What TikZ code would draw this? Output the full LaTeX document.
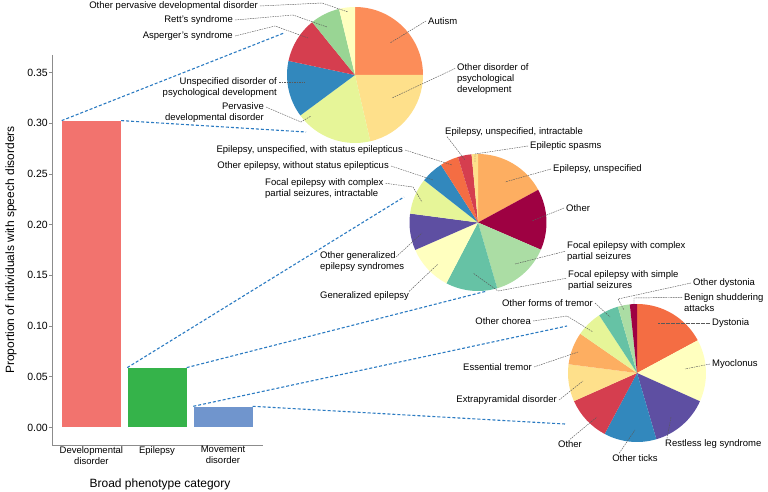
\documentclass[tikz,border=0pt]{standalone}
\usepackage{fontspec}
\setmainfont{Liberation Sans}
\usepackage{xcolor}
\usetikzlibrary{positioning,calc}

\definecolor{spA}{HTML}{9E0142}
\definecolor{spB}{HTML}{D53E4F}
\definecolor{spC}{HTML}{F46D43}
\definecolor{spD}{HTML}{FDAE61}
\definecolor{spE}{HTML}{FEE08B}
\definecolor{spF}{HTML}{FFFFBF}
\definecolor{spG}{HTML}{E6F598}
\definecolor{spH}{HTML}{ABDDA4}
\definecolor{spI}{HTML}{66C2A5}
\definecolor{spJ}{HTML}{3288BD}
\definecolor{spK}{HTML}{5E4FA2}
\definecolor{sevOrange}{HTML}{FC8D59}
\definecolor{sevGreen}{HTML}{99D594}
\definecolor{devRed}{HTML}{F2736E}
\definecolor{epiGreen}{HTML}{35B34A}
\definecolor{movBlue}{HTML}{7095CD}
\definecolor{linkBlue}{HTML}{2B7BC2}

\begin{document}
\begin{tikzpicture}[x=1pt, y=1pt,
    lbl/.style={font=\fontsize{9.5}{11}\selectfont, inner sep=0pt, align=left},
    lblr/.style={lbl, align=right},
    leader/.style={draw=black!65, line width=0.45pt, dash pattern=on 1.6pt off 0.9pt},
    zoomline/.style={draw=linkBlue, line width=1.1pt, dash pattern=on 3pt off 2pt},
    bar/.style={anchor=south west, inner sep=0pt, minimum width=59pt},
    ticklbl/.style={font=\fontsize{10.5}{12}\selectfont, anchor=east, inner sep=0pt},
    cat/.style={font=\fontsize{9.5}{11}\selectfont, inner sep=0pt, align=center}
]
    \useasboundingbox (0,0) rectangle (768,-492);

    % bar chart
    \draw[black!45, line width=0.8pt] (52,-55) -- (52,-445) -- (263,-445);
    \foreach \v/\t in {0/0.00,1/0.05,2/0.10,3/0.15,4/0.20,5/0.25,6/0.30,7/0.35} {
        \draw[black!45, line width=0.8pt] (49,-427.5+\v*50.71) -- (52,-427.5+\v*50.71);
        \node[ticklbl] (tick\v) at (48,-427.5+\v*50.71) {\t};
    }
    \node[bar, fill=devRed, minimum height=306.5pt] (barDev) at (61.7,-427.5) {};
    \node[bar, fill=epiGreen, minimum height=59.5pt] (barEpi) at (127.3,-427.5) {};
    \node[bar, fill=movBlue, minimum height=20.8pt] (barMov) at (193.3,-427.5) {};
    \node[cat, below=18.5pt of barDev] (catDev) {Developmental\\disorder};
    \node[cat, below=18.5pt of barEpi] (catEpi) {Epilepsy};
    \node[cat, below=18.5pt of barMov] (catMov) {Movement\\disorder};
    \node[font=\fontsize{12}{14}\selectfont, inner sep=0pt] (xTitle) at (160,-484) {Broad phenotype category};
    \node[font=\fontsize{12}{14}\selectfont, inner sep=0pt, rotate=90] (yTitle) at (11,-250) {Proportion of individuals with speech disorders};

    % pies
    \coordinate (pieDev) at (355,-75);
    \coordinate (pieEpi) at (478,-222.5);
    \coordinate (pieMov) at (637,-373);
    \foreach \a/\b/\c in {90/0/sevOrange, 0/-77/spE, -77/-143.5/spG, -143.5/-192/spJ,
        -192/-231/spB, -231/-256.4/sevGreen, -256.4/-270/spF}
        \fill[\c] (pieDev) -- ++(\a:68pt) arc[start angle=\a, end angle=\b, radius=68pt] -- cycle;
    \foreach \a/\b/\c in {90/28.5/spD, 28.5/-23.4/spA, -23.4/-73.7/spH, -73.7/-117.5/spI,
        -117.5/-156.4/spF, -156.4/-187.5/spK, -187.5/-218.1/spG, -218.1/-237.3/spJ,
        -237.3/-253/spC, -253/-264.6/spB, -264.6/-270/spE}
        \fill[\c] (pieEpi) -- ++(\a:68.5pt) arc[start angle=\a, end angle=\b, radius=68.5pt] -- cycle;
    \foreach \a/\b/\c in {90/28.3/spC, 28.3/-24.2/spF, -24.2/-73.7/spK, -73.7/-118/spJ,
        -118/-156/spB, -156/-187.3/spE, -187.3/-214.7/spD, -214.7/-236.8/spG,
        -236.8/-253.9/spI, -253.9/-264/spH, -264/-270/spA}
        \fill[\c] (pieMov) -- ++(\a:69pt) arc[start angle=\a, end angle=\b, radius=69pt] -- cycle;

    % links from bars to pies
    \coordinate (devTop) at (284,-33);
    \coordinate (devBot) at (306,-132);
    \coordinate (epiTop) at (404,-197);
    \coordinate (epiBot) at (487,-291);
    \coordinate (movTop) at (567,-326);
    \coordinate (movBot) at (565,-424);
    \draw[zoomline] (barDev.north west) -- (devTop);
    \draw[zoomline] (barDev.north east) -- (devBot);
    \draw[zoomline] (barEpi.north west) -- (epiTop);
    \draw[zoomline] (barEpi.north east) -- (epiBot);
    \draw[zoomline] (barMov.north west) -- (movTop);
    \draw[zoomline] (barMov.north east) -- (movBot);

    % developmental disorder labels
    \node[lbl, anchor=east] (lOPDD) at (258,-6) {Other pervasive developmental disorder};
    \node[lbl, anchor=east] (lRett) at (233,-20) {Rett's syndrome};
    \node[lbl, anchor=east] (lAsp) at (233,-36) {Asperger's syndrome};
    \node[lblr, anchor=east] (lUnspec) at (277,-87.5) {Unspecified disorder of\\psychological development};
    \node[lblr, anchor=east] (lPerv) at (264,-112.5) {Pervasive\\developmental disorder};
    \node[lbl, anchor=west] (lAutism) at (428,-21) {Autism};
    \node[lbl, anchor=west] (lOthDev) at (457,-79.5) {Other disorder of\\psychological\\development};
    \coordinate (inOPDD) at (348,-12);
    \coordinate (inRett) at (327,-27);
    \coordinate (inAsp) at (308,-38);
    \coordinate (inUnspec) at (305,-82);
    \coordinate (inPerv) at (311,-116);
    \coordinate (inAutism) at (390,-43);
    \coordinate (inOthDev) at (392,-98);
    \draw[leader] ([xshift=2pt]lOPDD.east) -- (322,-3) -- (inOPDD);
    \draw[leader] ([xshift=2pt]lRett.east) -- (293,-15) -- (inRett);
    \draw[leader] ([xshift=2pt]lAsp.east) -- (275,-26) -- (inAsp);
    \draw[leader] ([xshift=2pt,yshift=5.5pt]lUnspec.east) -- (inUnspec);
    \draw[leader] ([xshift=2pt,yshift=5.5pt]lPerv.east) -- (301,-122) -- (inPerv);
    \draw[leader] ([xshift=-2pt]lAutism.west) -- (inAutism);
    \draw[leader] ([xshift=-2pt,yshift=11pt]lOthDev.west) -- (inOthDev);

    % epilepsy labels
    \node[lbl, anchor=west] (lEUI) at (445,-132) {Epilepsy, unspecified, intractable};
    \node[lbl, anchor=west] (lSpasm) at (530,-146) {Epileptic spasms};
    \node[lbl, anchor=west] (lEU) at (553,-169) {Epilepsy, unspecified};
    \node[lbl, anchor=west] (lOthEpi) at (566,-208) {Other};
    \node[lbl, anchor=west] (lFCP) at (567,-251.3) {Focal epilepsy with complex\\partial seizures};
    \node[lbl, anchor=west] (lFSP) at (568,-280.3) {Focal epilepsy with simple\\partial seizures};
    \node[lbl, anchor=west] (lGen) at (320,-296) {Generalized epilepsy};
    \node[lbl, anchor=west] (lOGES) at (320,-261.7) {Other generalized\\epilepsy syndromes};
    \node[lbl, anchor=west] (lFCPI) at (265,-188.8) {Focal epilepsy with complex\\partial seizures, intractable};
    \node[lbl, anchor=east] (lOEW) at (389,-166) {Other epilepsy, without status epilepticus};
    \node[lbl, anchor=east] (lEUS) at (403,-150) {Epilepsy, unspecified, with status epilepticus};
    \coordinate (inEUI) at (465,-160);
    \coordinate (inSpasm) at (475,-162);
    \coordinate (inEU) at (505,-182);
    \coordinate (inOthEpi) at (532,-221);
    \coordinate (inFCP) at (515,-264);
    \coordinate (inFSP) at (473,-273);
    \coordinate (inGen) at (438,-264);
    \coordinate (inOGES) at (422,-233);
    \coordinate (inFCPI) at (422,-202);
    \coordinate (inOEW) at (433,-180);
    \coordinate (inEUS) at (452,-165);
    \draw[leader] ([xshift=2pt]lEUI.south west) -- (inEUI);
    \draw[leader] ([xshift=-2pt]lSpasm.west) -- (475,-154) -- (inSpasm);
    \draw[leader] ([xshift=-2pt]lEU.west) -- (inEU);
    \draw[leader] ([xshift=-2pt]lOthEpi.west) -- (inOthEpi);
    \draw[leader] ([xshift=-2pt]lFCP.west) -- (inFCP);
    \draw[leader] ([xshift=-2pt,yshift=2pt]lFSP.west) -- (498,-291) -- (inFSP);
    \draw[leader] (lGen.north east) -- (inGen);
    \draw[leader] ($(lOGES.north west)+(76,-5.5)$) -- (inOGES);
    \draw[leader] ([xshift=2pt,yshift=5.5pt]lFCPI.east) -- (413,-187) -- (inFCPI);
    \draw[leader] ([xshift=2pt]lOEW.east) -- (inOEW);
    \draw[leader] ([xshift=2pt]lEUS.east) -- (inEUS);

    % movement disorder labels
    \node[lbl, anchor=west] (lODys) at (693,-283) {Other dystonia};
    \node[lbl, anchor=west] (lBenign) at (684,-302.8) {Benign shuddering\\attacks};
    \node[lbl, anchor=west] (lDyst) at (712,-323) {Dystonia};
    \node[lbl, anchor=west] (lMyo) at (712,-364) {Myoclonus};
    \node[lbl, anchor=west] (lRLS) at (665,-444) {Restless leg syndrome};
    \node[lbl] (lTicks) at (635,-458) {Other ticks};
    \node[lbl] (lOthMov) at (570,-444) {Other};
    \node[lbl, anchor=east] (lExtra) at (557,-400) {Extrapyramidal disorder};
    \node[lbl, anchor=east] (lEss) at (532,-367) {Essential tremor};
    \node[lbl, anchor=east] (lChorea) at (531,-321) {Other chorea};
    \node[lbl, anchor=east] (lTremor) at (593,-303) {Other forms of tremor};
    \coordinate (inODys) at (624,-310);
    \coordinate (inBenign) at (634,-309);
    \coordinate (inDyst) at (658,-323);
    \coordinate (inMyo) at (685,-369);
    \coordinate (inRLS) at (671,-417);
    \coordinate (inTicks) at (635,-430);
    \coordinate (inOthMov) at (597,-417);
    \coordinate (inExtra) at (583,-381);
    \coordinate (inEss) at (578,-352);
    \coordinate (inChorea) at (593,-332);
    \coordinate (inTremor) at (610,-317);
    \draw[leader] ([xshift=-2pt]lODys.west) -- (618,-299) -- (inODys);
    \draw[leader] ([xshift=-2pt,yshift=5.5pt]lBenign.west) -- (634,-298) -- (inBenign);
    \draw[leader] ([xshift=-2pt]lDyst.west) -- (inDyst);
    \draw[leader] ([xshift=-2pt]lMyo.west) -- (inMyo);
    \draw[leader] ([xshift=2pt,yshift=1pt]lRLS.north west) -- (inRLS);
    \draw[leader] ([xshift=7pt,yshift=1pt]lTicks.north west) -- (inTicks);
    \draw[leader] ([yshift=1pt]lOthMov.north) -- (inOthMov);
    \draw[leader] ([xshift=2pt]lExtra.east) -- (inExtra);
    \draw[leader] ([xshift=2pt]lEss.east) -- (inEss);
    \draw[leader] ([xshift=2pt]lChorea.east) -- (567,-316) -- (inChorea);
    \draw[leader] ([xshift=2pt]lTremor.east) -- (inTremor);
\end{tikzpicture}
\end{document}
